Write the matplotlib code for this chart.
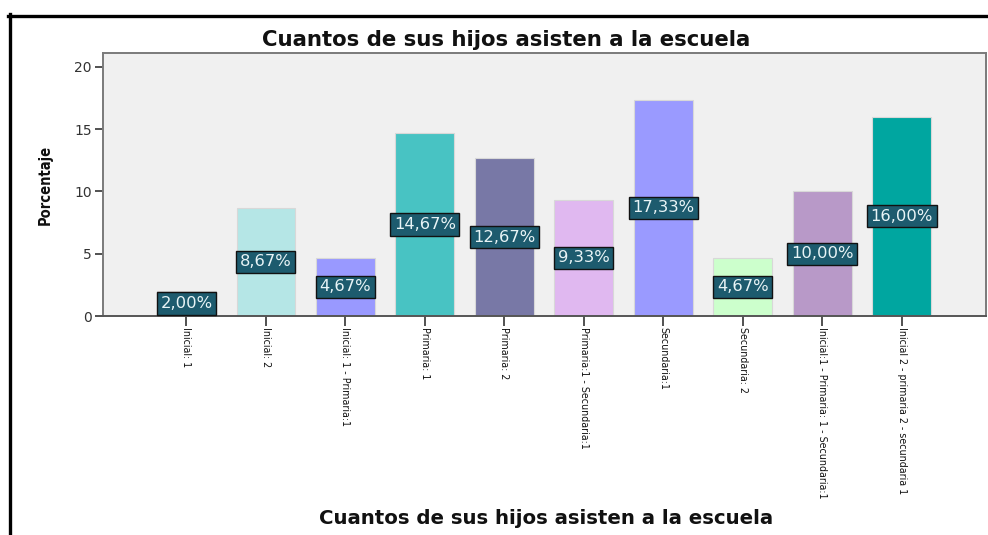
import matplotlib
matplotlib.use("Agg")
import matplotlib.pyplot as plt
from matplotlib.lines import Line2D

categories = ["Inicial: 1", "Inicial: 2", "Inicial: 1 - Primaria:1", "Primaria: 1",
              "Primaria: 2", "Primaria:1 - Secundaria:1", "Secundaria:1", "Secundaria: 2",
              "Inicial:1 - Primaria: 1 - Secundaria:1", "Inicial 2 - primaria 2 - secundaria 1"]
values = [2.00, 8.67, 4.67, 14.67, 12.67, 9.33, 17.33, 4.67, 10.00, 16.00]
bar_colors = ["#7c7cb4", "#b5e6e6", "#9999ff", "#48c3c3", "#7878a6",
              "#e0b8f0", "#9a9aff", "#ccffcc", "#b899c8", "#00a6a0"]
y_ticks = [0, 5, 10, 15, 20]
title = "Cuantos de sus hijos asisten a la escuela"
xlabel = "Cuantos de sus hijos asisten a la escuela"
ylabel = "Porcentaje"

W, H = 988, 535
fig = plt.figure(figsize=(W / 100, H / 100), dpi=100)
fig.patch.set_facecolor("white")

# black frame lines (top and left)
fig.add_artist(Line2D([8 / W, 1.0], [1 - 15.5 / H, 1 - 15.5 / H], color="black", lw=2.4,
                      transform=fig.transFigure))
fig.add_artist(Line2D([10 / W, 10 / W], [0.0, 1 - 14 / H], color="black", lw=2.4,
                      transform=fig.transFigure))

left, right, top, bottom = 103, 986, 53, 316
ax = fig.add_axes([left / W, 1 - bottom / H, (right - left) / W, (bottom - top) / H])
ax.set_facecolor("#f0f0f0")

x = list(range(len(categories)))
ax.bar(x, values, width=0.74, color=bar_colors, edgecolor="#d8d8d8", linewidth=0.8, zorder=2)

for xi, v in zip(x, values):
    ax.text(xi, v / 2, f"{v:.2f}%".replace(".", ","), ha="center", va="center",
            color="#e8f4f6", fontsize=11.8, family="DejaVu Sans", zorder=4,
            bbox=dict(boxstyle="square,pad=0.22", facecolor="#1d5b6e", edgecolor="#111111",
                      linewidth=1.0))

ax.set_xlim(-1.05, 10.06)
ax.set_ylim(0, 21.1)
ax.set_yticks(y_ticks)
ax.set_yticklabels([str(t) for t in y_ticks], fontsize=10, color="#333333", family="DejaVu Sans")
ax.set_xticks(x)
ax.set_xticklabels(categories, rotation=270, ha="center", va="top", fontsize=7.7,
                   family="DejaVu Sans", fontstretch="condensed", color="#111111")
ax.tick_params(axis="y", length=6, width=1.2, color="#333333", pad=2)
ax.tick_params(axis="x", length=7, width=1.2, color="#333333", pad=1)

for s in ["top", "right", "left"]:
    ax.spines[s].set_color("#7a7a7a")
    ax.spines[s].set_linewidth(1.4)
ax.spines["bottom"].set_color("#555555")
ax.spines["bottom"].set_linewidth(1.4)

fig.text(506 / W, 1 - 40 / H, title, ha="center", va="center", fontsize=15.3,
         fontweight="bold", family="DejaVu Sans", color="#111111")
fig.text(546 / W, 1 - 518 / H, xlabel, ha="center", va="center", fontsize=14.2,
         fontweight="bold", family="DejaVu Sans", color="#111111")
fig.text(45 / W, 1 - 185 / H, ylabel, ha="center", va="center", rotation=90, fontsize=10.5,
         fontweight="bold", family="DejaVu Sans", fontstretch="condensed", color="#111111")

fig.savefig("out.png", dpi=100)
